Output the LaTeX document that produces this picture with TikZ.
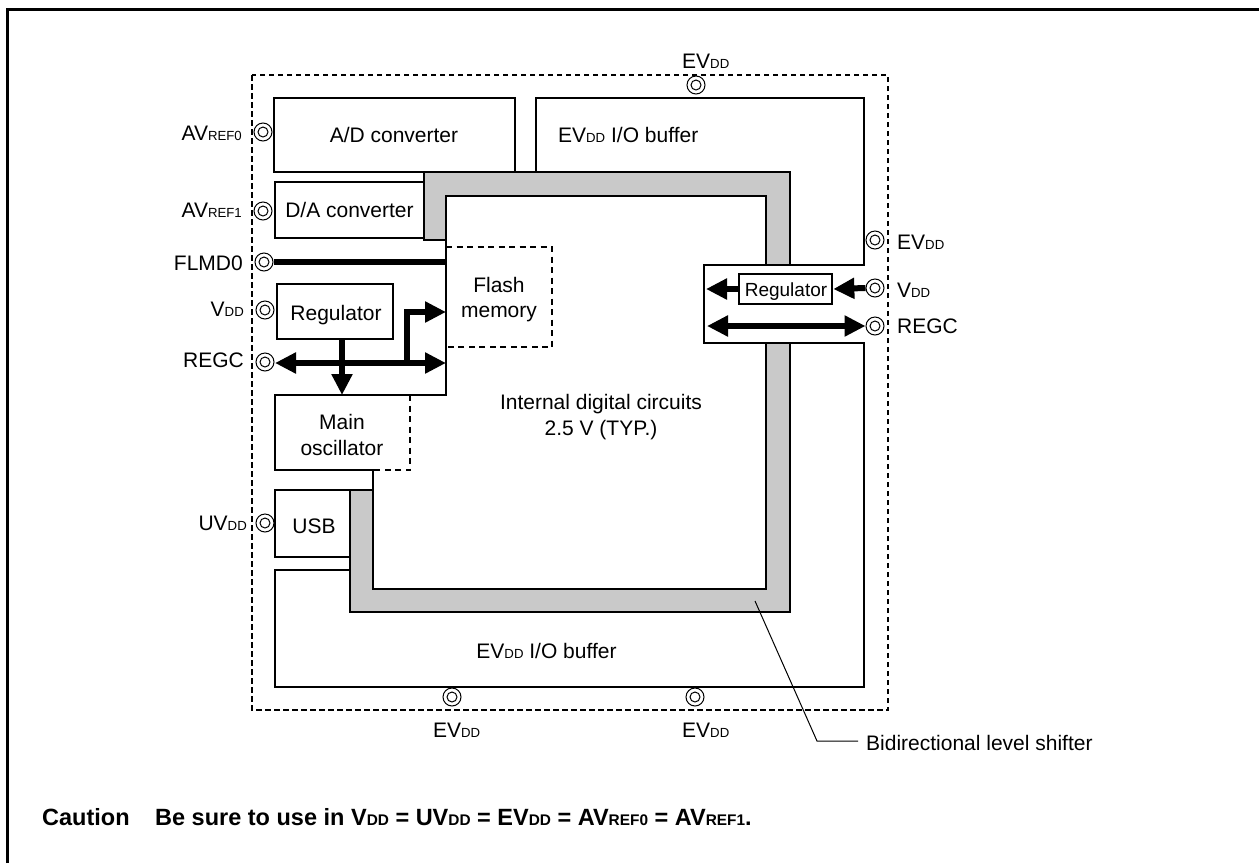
\documentclass[tikz,border=0pt]{standalone}
\usepackage{fontspec}
\setmainfont{Liberation Sans}
\usetikzlibrary{arrows.meta}
\newcommand{\lowtxt}[1]{{\fontsize{13.2}{15}\selectfont #1}}
\newcommand{\lowbold}[1]{{\fontsize{15.4}{18}\selectfont #1}}
\tikzset{
  pin/.style={circle,draw,line width=1pt,fill=white,minimum size=18pt,inner sep=0pt,
    path picture={\draw[line width=1pt] (path picture bounding box.center) circle (5pt);}},
  blockbox/.style={draw,line width=2.7pt,fill=white,inner sep=0pt,align=center},
  outline/.style={line width=2.7pt,line join=miter},
  dashline/.style={line width=2.7pt,dash pattern=on 6pt off 4.5pt},
  busarrow/.style={line width=6pt,-{Triangle[length=21pt,width=20pt]}},
  bustwo/.style={line width=6pt,{Triangle[length=21pt,width=20pt]}-{Triangle[length=21pt,width=20pt]}},
  lbl/.style={inner sep=0pt,align=center},
  notetxt/.style={lbl,anchor=base west,font=\fontsize{23.5}{27}\selectfont\bfseries}
}
\begin{document}
\begin{tikzpicture}[x=1pt,y=-1pt,font=\fontsize{21}{25.5}\selectfont]
\useasboundingbox (0,0) rectangle (1259,863);
\draw[line width=3pt] (7.5,863) -- (7.5,9.5) -- (1259,9.5);
\draw[line width=2.7pt,dash pattern=on 5.5pt off 3.5pt] (252,75) rectangle (888,710);
% boxes under the band
\node[blockbox,minimum width=241pt,minimum height=74pt] (adc) at (394.5,135) {};
\node[blockbox,minimum width=149pt,minimum height=56pt] (dac) at (349.5,210) {};
\node[blockbox,minimum width=75pt,minimum height=67pt] (usb) at (312.5,523.5) {};
\draw[outline] (536,172) -- (536,98) -- (864,98) -- (864,265) -- (704,265) -- (704,343)
  -- (864,343) -- (864,687) -- (275,687) -- (275,570) -- (350,570);
% level shifter band
\draw[outline,fill=black!21] (424,240) -- (424,172) -- (790,172) -- (790,265) -- (766,265)
  -- (766,196) -- (446,196) -- (446,240) -- cycle;
\draw[outline,fill=black!21] (766,343) -- (790,343) -- (790,612) -- (350,612) -- (350,490)
  -- (373,490) -- (373,589) -- (766,589) -- cycle;
% internal area edge
\draw[outline] (446,240) -- (446,395) -- (275,395) -- (275,470) -- (373,470) -- (373,490);
\draw[dashline] (446,247) -- (552,247) -- (552,347) -- (446,347);
\draw[dashline] (410,395) -- (410,470) -- (373,470);
\node[blockbox,minimum width=116pt,minimum height=55pt] (regl) at (335,311.5) {};
\node[blockbox,minimum width=93pt,minimum height=30pt] (regr) at (785.5,289) {};
% texts
\node[lbl,anchor=base] (adctxt) at (394,142) {A/D converter};
\node[lbl,anchor=base] (dactxt) at (349.5,217) {D/A converter};
\node[lbl,anchor=base] (usbtxt) at (314,533) {USB};
\node[lbl,anchor=base] (regltxt) at (336,320) {Regulator};
\node[lbl,anchor=base,font=\fontsize{19}{22}\selectfont] (regrtxt) at (786,296.5) {Regulator};
\node[lbl] (flash) at (499,299.5) {Flash\\memory};
\node[lbl] (mainosc) at (342,435) {Main\\oscillator};
\node[lbl] (internal) at (601,417) {Internal digital circuits\\2.5 V (TYP.)};
\node[lbl,anchor=base west] (iotop) at (558,142) {EV\lowtxt{DD} I/O buffer};
\node[lbl,anchor=base] (iobot) at (546.5,658) {EV\lowtxt{DD} I/O buffer};
% terminals
\node[pin] (avrefa) at (263,132) {};
\node[pin] (avrefb) at (263,211) {};
\node[pin] (flmd) at (264,262) {};
\node[pin] (vddl) at (265,310) {};
\node[pin] (regcl) at (265,362) {};
\node[pin] (uvdd) at (265,523) {};
\node[pin] (evtop) at (696,85) {};
\node[pin] (evbota) at (452,697) {};
\node[pin] (evbotb) at (695,697) {};
\node[pin] (evr) at (875,240) {};
\node[pin] (vddr) at (875,288) {};
\node[pin] (regcr) at (875,326) {};
\node[lbl,anchor=base east] (lavrefa) at (242,140) {AV\lowtxt{REF0}};
\node[lbl,anchor=base east] (lavrefb) at (242,217) {AV\lowtxt{REF1}};
\node[lbl,anchor=base east] (lflmd) at (243,270) {FLMD0};
\node[lbl,anchor=base east] (lvddl) at (244,316) {V\lowtxt{DD}};
\node[lbl,anchor=base east] (lregcl) at (244,367) {REGC};
\node[lbl,anchor=base east] (luvdd) at (247,530) {UV\lowtxt{DD}};
\node[lbl,anchor=base west] (levtop) at (682,68) {EV\lowtxt{DD}};
\node[lbl,anchor=base west] (levbota) at (433,737) {EV\lowtxt{DD}};
\node[lbl,anchor=base west] (levbotb) at (682,737) {EV\lowtxt{DD}};
\node[lbl,anchor=base west] (levr) at (897,249) {EV\lowtxt{DD}};
\node[lbl,anchor=base west] (lvddr) at (897,297) {V\lowtxt{DD}};
\node[lbl,anchor=base west] (lregcr) at (897,333) {REGC};
% arrows
\coordinate (flmdend) at (446,262);
\coordinate (buseast) at (446,363);
\coordinate (buswest) at (275,363);
\coordinate (oscin) at (342,395);
\coordinate (branch) at (407,363);
\coordinate (branchup) at (407,312);
\coordinate (flashin) at (446,312);
\coordinate (regrout) at (706,289);
\coordinate (regcrw) at (707,326);
\draw[line width=6pt] (flmd.east) -- (flmdend);
\draw[bustwo] (buswest) -- (buseast);
\draw[busarrow] (regl.south -| oscin) -- (oscin);
\draw[busarrow] (branch) -- (branchup) -- (flashin);
\draw[busarrow] (regr.west) -- (regrout);
\draw[busarrow] (vddr.west) -- (regr.east);
\draw[bustwo] (regcrw) -- (regcr.west);
% leader
\coordinate (bandpt) at (755,601);
\coordinate (knee) at (817,741);
\node[lbl,anchor=base west] (shifter) at (866,750) {Bidirectional level shifter};
\draw[line width=1pt] (bandpt) -- (knee) -- ([xshift=-8pt]knee -| shifter.west);
% note
\node[notetxt] (caution) at (42,825) {Caution};
\node[notetxt] (cautiontxt) at (155,825)
  {Be sure to use in V\lowbold{DD} = UV\lowbold{DD} = EV\lowbold{DD} = AV\lowbold{REF0} = AV\lowbold{REF1}.};
\end{tikzpicture}
\end{document}
